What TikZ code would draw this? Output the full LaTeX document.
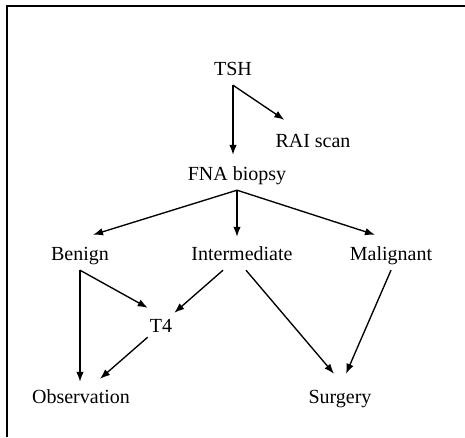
\documentclass[tikz,border=0pt]{standalone}
\usepackage{fontspec}
\setmainfont{Liberation Serif}
\usetikzlibrary{arrows.meta,calc}

\begin{document}
\begin{tikzpicture}[x=1pt,y=-1pt,
    box/.style={anchor=base,inner xsep=2pt,inner ysep=5pt,text height=14pt,text depth=5pt,
      font=\fontsize{20}{24}\selectfont},
    arr/.style={-{Latex[length=10pt,width=7.5pt]},line width=1.35pt}]
    \useasboundingbox (0,0) rectangle (465,437);
    % Draw the frame
    \draw[line width=1.4pt] (7,437) -- (7,6) -- (465,6);
    % Draw the steps
    \node[box] (TSH) at (233,75) {TSH};
    \node[box] (RAI) at (313,147) {RAI scan};
    \node[box] (FNA) at (237,180) {FNA biopsy};
    \node[box] (Benign) at (80,260) {Benign};
    \node[box] (Inter) at (242,260) {Intermediate};
    \node[box] (Malig) at (391,260) {Malignant};
    \node[box] (T4) at (161,332) {T4};
    \node[box] (Obs) at (81,403) {Observation};
    \node[box] (Surg) at (340,403) {Surgery};
    % Draw the arrows
    \draw[arr,shorten >=6pt] (TSH.south) -- (TSH.south |- FNA.north);
    \draw[arr] (TSH.south) -- ($(RAI.north west)+(11,-8)$);
    \draw[arr] (FNA.south) -- ($(Benign.north)+(13,-6)$);
    \draw[arr,shorten >=4pt] (FNA.south) -- (FNA.south |- Inter.north);
    \draw[arr] (FNA.south) -- ($(Malig.north)+(-16,-6)$);
    \draw[arr,shorten >=2pt] (Benign.south) -- (Benign.south |- Obs.north);
    \draw[arr] (Benign.south) -- ($(T4.north west)+(0,-5)$);
    \draw[arr] ($(Inter.south)+(-19,0)$) -- (T4.north east);
    \draw[arr] ($(Inter.south)+(4,0)$) -- ($(Surg.north)+(-6,-10)$);
    \draw[arr] (Malig.south) -- ($(Surg.north)+(6,-10)$);
    \draw[arr] ($(T4.south west)+(0,-5)$) -- ($(Obs.north)+(19,-5)$);
\end{tikzpicture}
\end{document}
